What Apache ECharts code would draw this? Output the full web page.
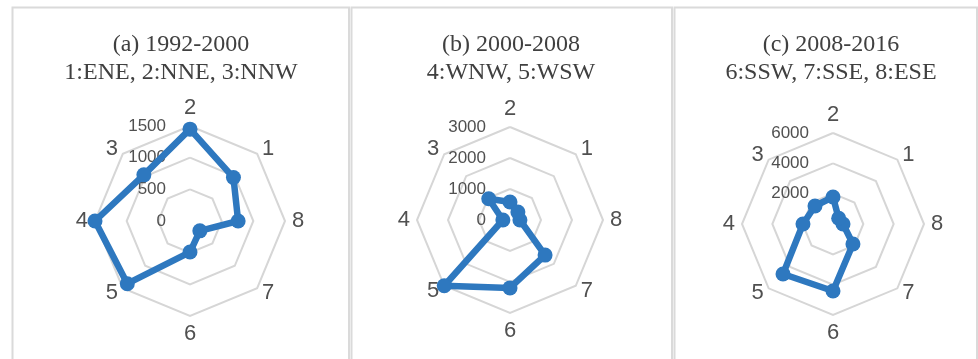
<!DOCTYPE html>
<html>
<head>
<meta charset="utf-8">
<script src="https://cdn.jsdelivr.net/npm/echarts@6/dist/echarts.min.js"></script>
<style>
  html, body { margin: 0; padding: 0; background: #ffffff; }
  #chart { width: 978px; height: 359px; }
</style>
</head>
<body>
<div id="chart"></div>
<script>
// Direction sectors, listed counter-clockwise from the top axis
const directions = ['2', '3', '4', '5', '6', '7', '8', '1'];

// Panel titles
const titleA = '(a) 1992-2000\n1:ENE, 2:NNE, 3:NNW';
const titleB = '(b) 2000-2008\n4:WNW, 5:WSW';
const titleC = '(c) 2008-2016\n6:SSW, 7:SSE, 8:ESE';

// Axis maxima (tick labels run 0 .. max in three steps)
const maxA = 1500;
const maxB = 3000;
const maxC = 6000;

// Values per direction, same order as `directions`
const valuesA = [1450, 1030, 1500, 1400, 490, 220, 760, 970];
const valuesB = [580, 970, 230, 3000, 2190, 1600, 320, 360];
const valuesC = [1780, 1680, 1980, 4660, 4420, 1860, 660, 530];

const BLUE = '#2e78bf';
const GRID = '#d6d6d6';
const TEXT = '#505050';

const tickLabel = {
  color: TEXT,
  fontSize: 17,
  fontFamily: 'Liberation Sans',
  margin: 24,
  formatter: function (v) { return String(v); }
};

function indicators(max) {
  return directions.map(function (d, i) {
    const ind = { name: d, min: 0, max: max };
    if (i === 0) {
      ind.axisLabel = Object.assign({ show: true }, tickLabel);
    }
    return ind;
  });
}

function radar(center, radius, max) {
  return {
    center: center,
    radius: radius,
    shape: 'polygon',
    splitNumber: 3,
    startAngle: 90,
    indicator: indicators(max),
    axisName: {
      color: TEXT,
      fontSize: 22,
      fontFamily: 'Liberation Sans'
    },
    nameGap: 7,
    axisLine: { show: false },
    axisTick: { show: false },
    axisLabel: Object.assign({ show: false }, tickLabel),
    splitArea: { show: false },
    splitLine: { lineStyle: { color: GRID, width: 2 } }
  };
}

function title(text, x) {
  return {
    text: text,
    left: x,
    top: 31,
    textAlign: 'center',
    padding: 0,
    textStyle: {
      fontFamily: 'Liberation Serif',
      fontWeight: 'normal',
      fontSize: 24,
      lineHeight: 28,
      color: '#404040'
    }
  };
}

function series(idx, values) {
  return {
    type: 'radar',
    radarIndex: idx,
    symbol: 'circle',
    symbolSize: 15,
    silent: true,
    itemStyle: { color: BLUE },
    lineStyle: { color: BLUE, width: 6.5 },
    data: [{ value: values }]
  };
}

// Panel frames
function frame(x1, x2) {
  return {
    type: 'rect',
    silent: true,
    z: -1,
    shape: { x: x1, y: 7.5, width: x2 - x1, height: 380 },
    style: { fill: 'none', stroke: '#dadada', lineWidth: 2 }
  };
}

const chart = echarts.init(document.getElementById('chart'), null, { renderer: 'canvas' });
chart.setOption({
  backgroundColor: '#ffffff',
  animation: false,
  title: [title(titleA, 181), title(titleB, 511), title(titleC, 831)],
  graphic: [frame(12.5, 349), frame(351.5, 672), frame(674.5, 977)],
  radar: [
    radar([190, 221], 95, maxA),
    radar([510, 220], 93, maxB),
    radar([833, 224], 91, maxC)
  ],
  series: [series(0, valuesA), series(1, valuesB), series(2, valuesC)]
});
</script>
</body>
</html>
